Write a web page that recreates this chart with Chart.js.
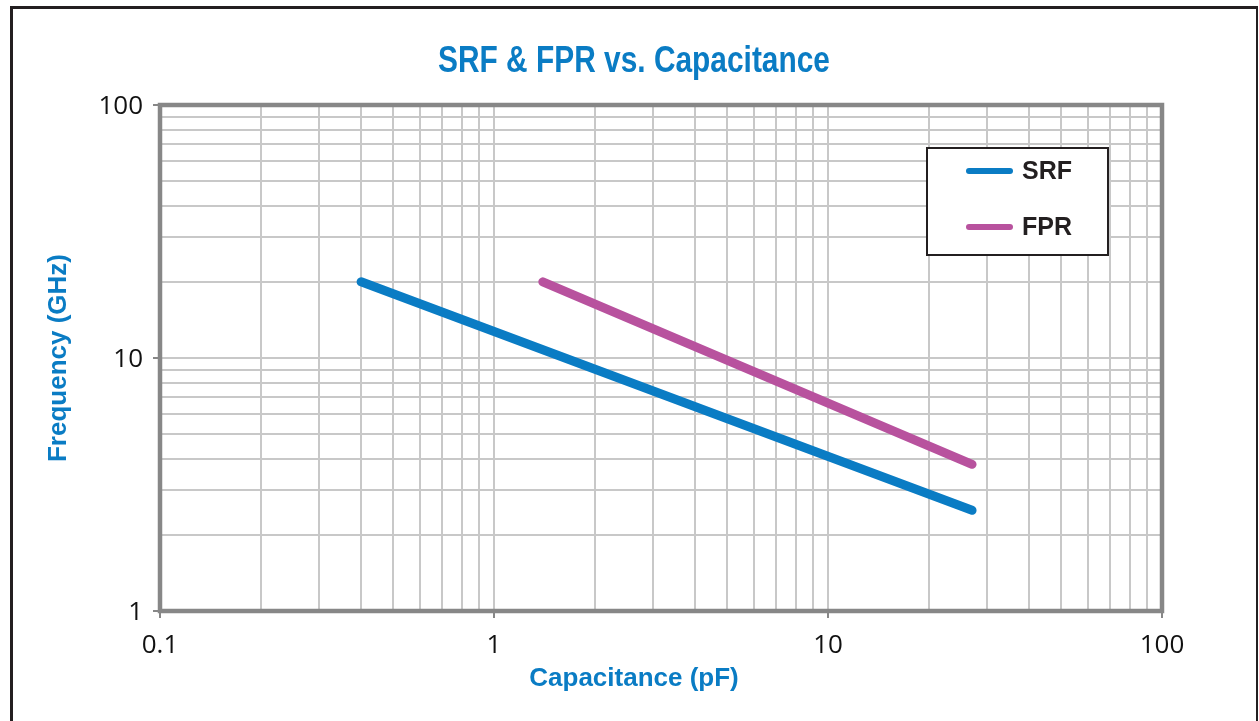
<!DOCTYPE html>
<html>
<head>
<meta charset="utf-8">
<script src="https://cdn.jsdelivr.net/npm/chart.js@4/dist/chart.umd.min.js"></script>
<style>
  html, body { margin: 0; padding: 0; background: #fff; overflow: hidden; }
  #frame { position: absolute; left: 10px; top: 6px; width: 1248px; height: 740px; border: 3px solid #231f20; border-right-width: 2px; box-sizing: border-box; }
  #wrap { position: absolute; left: 0; top: 0; width: 1259px; height: 721px; }
</style>
</head>
<body>
<div id="frame"></div>
<div id="wrap"><canvas id="c" width="1259" height="721"></canvas></div>
<script>
// ---- data ----
const srfCapacitance = [0.4, 27];
const srfFrequency = [20, 2.5];
const fprCapacitance = [1.4, 27];
const fprFrequency = [20, 3.8];
const xTickLabels = ['0.1', '1', '10', '100'];
const yTickLabels = ['1', '10', '100'];
const seriesNames = ['SRF', 'FPR'];
const seriesColors = ['#0a7cc4', '#b8529e'];
const chartTitle = 'SRF & FPR vs. Capacitance';
const xTitle = 'Capacitance (pF)';
const yTitle = 'Frequency (GHz)';

const BLUE = '#0a7cc4';
const isPow10 = v => Math.abs(Math.log10(v) - Math.round(Math.log10(v))) < 1e-9;

function logTicks(min, max) {
  const out = [];
  for (let e = Math.round(Math.log10(min)); e < Math.round(Math.log10(max)); e++) {
    for (let m = 1; m <= 9; m++) out.push({ value: +(m * Math.pow(10, e)).toPrecision(6) });
  }
  out.push({ value: max });
  return out;
}
function labelFor(v, list) {
  const s = list.find(t => Math.abs(parseFloat(t) - v) < 1e-9 * Math.max(1, v));
  return s !== undefined ? s : '';
}

const frameAndLegend = {
  id: 'frameAndLegend',
  beforeDatasetsDraw(chart) {
    const { ctx, chartArea: a } = chart;
    ctx.save();
    ctx.strokeStyle = '#878787';
    ctx.lineWidth = 4.5;
    ctx.strokeRect(a.left, a.top, a.right - a.left, a.bottom - a.top);
    ctx.restore();
  },
  afterDraw(chart) {
    const { ctx, chartArea: a } = chart;
    // chart title (condensed bold)
    ctx.save();
    ctx.fillStyle = BLUE;
    ctx.font = 'bold 36px "Liberation Sans", Arial, sans-serif';
    ctx.textAlign = 'center';
    ctx.textBaseline = 'alphabetic';
    ctx.translate(634, 72);
    ctx.scale(0.83, 1);
    ctx.fillText(chartTitle, 0, 0);
    ctx.restore();
    // x axis title
    ctx.save();
    ctx.fillStyle = BLUE;
    ctx.font = 'bold 26px "Liberation Sans", Arial, sans-serif';
    ctx.textAlign = 'center';
    ctx.textBaseline = 'alphabetic';
    ctx.fillText(xTitle, 634, 686);
    ctx.restore();
    // legend
    const bx = a.right - 235, by = a.top + 43, bw = 181, bh = 107;
    ctx.save();
    ctx.fillStyle = '#fff';
    ctx.fillRect(bx, by, bw, bh);
    ctx.strokeStyle = '#231f20';
    ctx.lineWidth = 2;
    ctx.strokeRect(bx, by, bw, bh);
    chart.data.datasets.forEach((ds, i) => {
      const y = by + 23 + i * 56;
      ctx.strokeStyle = ds.borderColor;
      ctx.lineWidth = 6;
      ctx.lineCap = 'round';
      ctx.beginPath();
      ctx.moveTo(bx + 42, y);
      ctx.lineTo(bx + 83, y);
      ctx.stroke();
      ctx.fillStyle = '#231f20';
      ctx.font = 'bold 25px "Liberation Sans", Arial, sans-serif';
      ctx.textBaseline = 'middle';
      ctx.textAlign = 'left';
      ctx.fillText(ds.label, bx + 95, y + 1);
    });
    ctx.restore();
  }
};

const datasets = [
  { label: seriesNames[0], data: srfCapacitance.map((x, i) => ({ x, y: srfFrequency[i] })) },
  { label: seriesNames[1], data: fprCapacitance.map((x, i) => ({ x, y: fprFrequency[i] })) }
].map((d, i) => Object.assign(d, {
  borderColor: seriesColors[i],
  backgroundColor: seriesColors[i],
  borderWidth: 9,
  borderCapStyle: 'round',
  pointRadius: 0,
  fill: false,
  tension: 0
}));

const gridCfg = {
  color: '#c8c8c8',
  lineWidth: 2,
  tickLength: 7,
  tickColor: c => (c.tick && isPow10(c.tick.value)) ? '#878787' : 'rgba(0,0,0,0)',
  tickWidth: 2
};

new Chart(document.getElementById('c'), {
  type: 'line',
  data: { datasets },
  plugins: [frameAndLegend],
  options: {
    responsive: false,
    animation: false,
    devicePixelRatio: 1,
    layout: { padding: { left: 39, right: 97, top: 105, bottom: 27 } },
    plugins: {
      legend: { display: false },
      tooltip: { enabled: false },
      title: { display: false }
    },
    scales: {
      x: {
        type: 'logarithmic',
        min: 0.1, max: 100,
        afterBuildTicks: s => { s.ticks = logTicks(0.1, 100); },
        afterFit: s => { s.height = 83; },
        grid: gridCfg,
        border: { display: false },
        ticks: {
          autoSkip: false, maxRotation: 0, padding: 12, color: '#111',
          font: { family: '"Open Sans", sans-serif', size: 26 },
          callback: v => labelFor(v, xTickLabels)
        },
        title: { display: false }
      },
      y: {
        type: 'logarithmic',
        min: 1, max: 100,
        afterBuildTicks: s => { s.ticks = logTicks(1, 100); },
        afterFit: s => { s.width = 121; },
        grid: gridCfg,
        border: { display: false },
        ticks: {
          autoSkip: false, padding: 10, color: '#111', labelOffset: 2,
          font: { family: '"Open Sans", sans-serif', size: 26 },
          callback: v => labelFor(v, yTickLabels)
        },
        title: {
          display: true, text: yTitle, color: BLUE,
          font: { family: '"Liberation Sans", Arial, sans-serif', size: 26, weight: 'bold' },
          padding: { top: 4, bottom: 4 }
        }
      }
    }
  }
});
</script>
</body>
</html>
